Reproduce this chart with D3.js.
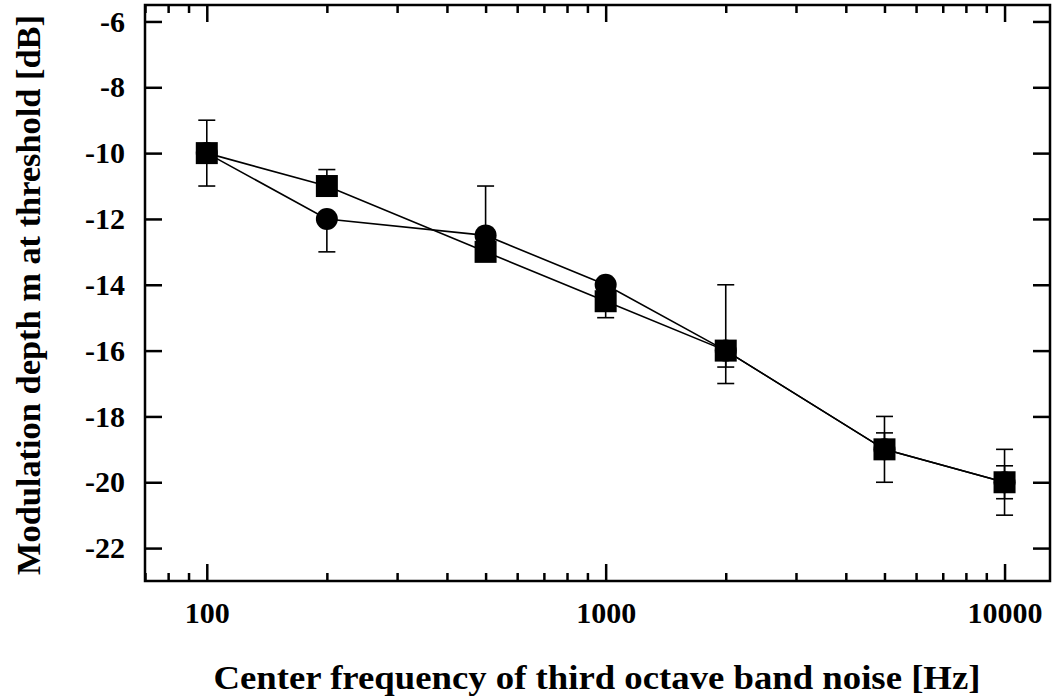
<!DOCTYPE html>
<html>
<head>
<meta charset="utf-8">
<script src="https://cdn.jsdelivr.net/npm/d3@7"></script>
<style>
  body { margin: 0; background: #fff; }
  text { font-family: "Liberation Serif", serif; font-weight: bold; fill: #000; }
</style>
</head>
<body>
<div id="graph"></div>
<script>
// frequencies (Hz)
let freqs = [100, 200, 500, 1000, 2000, 5000, 10000];

// circle series: value and error bar ends
let circleVals = [-10, -12, -12.5, -14, -16, -19, -20];
let circleLo   = [-11, -13, -12.5, -14, -17, -20, -21];
let circleHi   = [-9, -12, -11, -14, -14, -18, -19];

// square series
let squareVals = [-10, -11, -13, -14.5, -16, -19, -20];
let squareLo   = [-10, -11, -13, -15, -16.5, -19, -20.5];
let squareHi   = [-10, -10.5, -13, -14.5, -16, -18.5, -19.5];

let yTicks = [-22, -20, -18, -16, -14, -12, -10, -8, -6];
let xMajor = [100, 1000, 10000];
let xMinor = [70, 80, 90, 200, 300, 400, 500, 600, 700, 800, 900,
  2000, 3000, 4000, 5000, 6000, 7000, 8000, 9000];

let svg = d3.select("#graph").append("svg")
  .attr("width", 1055)
  .attr("height", 698);

let xScale = d3.scaleLog()
  .domain([70, 13000])
  .range([145, 1050]);

let yScale = d3.scaleLinear()
  .domain([-23, -5.5])
  .range([581, 5]);

function styleAxis(g) {
  g.select(".domain").remove();
  g.selectAll("line").attr("stroke", "#000").attr("stroke-width", 2.5);
  g.selectAll("text").attr("font-size", 30).attr("fill", "#000")
    .attr("font-family", "Liberation Serif").attr("font-weight", "bold");
}

// plain hyphen for negatives, like the original
let fmt = function (d) { return String(d); };

// major + minor x ticks, bottom and top
svg.append("g")
  .attr("transform", "translate(0,581)")
  .call(d3.axisBottom(xScale).tickValues(xMajor).tickSize(-17).tickPadding(21)
    .tickFormat(fmt))
  .call(styleAxis);
svg.append("g")
  .attr("transform", "translate(0,581)")
  .call(d3.axisBottom(xScale).tickValues(xMinor).tickSize(-8).tickFormat(""))
  .call(styleAxis);
svg.append("g")
  .attr("transform", "translate(0,5)")
  .call(d3.axisTop(xScale).tickValues(xMajor).tickSize(-17).tickFormat(""))
  .call(styleAxis);
svg.append("g")
  .attr("transform", "translate(0,5)")
  .call(d3.axisTop(xScale).tickValues(xMinor).tickSize(-8).tickFormat(""))
  .call(styleAxis);

// y ticks, left and right
svg.append("g")
  .attr("transform", "translate(145,0)")
  .call(d3.axisLeft(yScale).tickValues(yTicks).tickSize(-17).tickPadding(20)
    .tickFormat(fmt))
  .call(styleAxis);
svg.append("g")
  .attr("transform", "translate(1050,0)")
  .call(d3.axisRight(yScale).tickValues(yTicks).tickSize(-17).tickFormat(""))
  .call(styleAxis);

// frame
svg.append("rect")
  .attr("x", 145).attr("y", 5)
  .attr("width", 905).attr("height", 576)
  .attr("fill", "none")
  .attr("stroke", "#000")
  .attr("stroke-width", 2.5);

let line = d3.line()
  .x(function (d, i) { return xScale(freqs[i]); })
  .y(function (d) { return yScale(d); });

// lines
[circleVals, squareVals].forEach(function (vals) {
  svg.append("path")
    .attr("d", line(vals))
    .attr("fill", "none")
    .attr("stroke", "#000")
    .attr("stroke-width", 1.6);
});

// error bars
function errorBars(lo, hi) {
  let g = svg.append("g").attr("stroke", "#000").attr("stroke-width", 1.6);
  freqs.forEach(function (f, i) {
    let x = xScale(f);
    if (lo[i] === hi[i]) return;
    g.append("line").attr("x1", x).attr("x2", x)
      .attr("y1", yScale(lo[i])).attr("y2", yScale(hi[i]));
    [lo[i], hi[i]].forEach(function (v) {
      g.append("line").attr("x1", x - 8.5).attr("x2", x + 8.5)
        .attr("y1", yScale(v)).attr("y2", yScale(v));
    });
  });
}
errorBars(circleLo, circleHi);
errorBars(squareLo, squareHi);

// markers
svg.selectAll("circle.pt")
  .data(circleVals)
  .enter()
  .append("circle")
  .attr("class", "pt")
  .attr("cx", function (d, i) { return xScale(freqs[i]); })
  .attr("cy", function (d) { return yScale(d); })
  .attr("r", 11)
  .attr("fill", "#000");

svg.selectAll("rect.pt")
  .data(squareVals)
  .enter()
  .append("rect")
  .attr("class", "pt")
  .attr("x", function (d, i) { return xScale(freqs[i]) - 11; })
  .attr("y", function (d) { return yScale(d) - 11; })
  .attr("width", 22)
  .attr("height", 22)
  .attr("fill", "#000");

// axis titles
svg.append("text")
  .attr("x", 597)
  .attr("y", 689)
  .attr("text-anchor", "middle")
  .attr("font-size", 33)
  .attr("textLength", 767)
  .attr("lengthAdjust", "spacingAndGlyphs")
  .text("Center frequency of third octave band noise [Hz]");

svg.append("text")
  .attr("transform", "translate(40,295) rotate(-90)")
  .attr("text-anchor", "middle")
  .attr("font-size", 33)
  .attr("textLength", 560)
  .attr("lengthAdjust", "spacingAndGlyphs")
  .text("Modulation depth m at threshold [dB]");
</script>
</body>
</html>
